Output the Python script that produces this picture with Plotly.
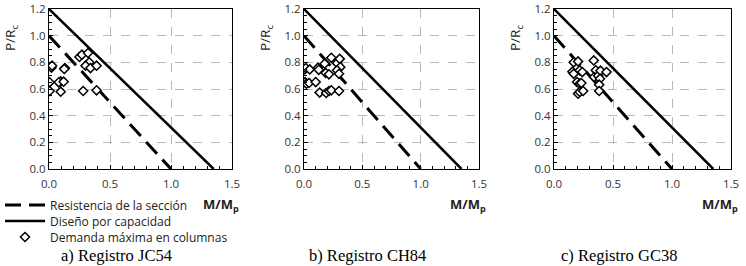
import plotly.graph_objects as go

# ---- data ----
x_limits = [0.0, 1.5]
y_limits = [0.0, 1.2]
x_tick_vals = [0.0, 0.5, 1.0, 1.5]
x_tick_text = ["0.0", "0.5", "1.0", "1.5"]
y_tick_vals = [0.0, 0.2, 0.4, 0.6, 0.8, 1.0, 1.2]
y_tick_text = ["0.0", "0.2", "0.4", "0.6", "0.8", "1.0", "1.2"]

# Resistencia de la sección (dashed)
res_m = [0.0, 1.0]
res_p = [1.0, 0.0]
# Diseño por capacidad (solid)
cap_m = [0.0, 1.35]
cap_p = [1.2, 0.0]

# Demanda máxima en columnas
jc54_m = [0.02, 0.025, 0.005, 0.005, 0.13, 0.125, 0.096, 0.08, 0.12, 0.096,
          0.25, 0.27, 0.32, 0.33, 0.30, 0.34, 0.39, 0.28, 0.39]
jc54_p = [0.76, 0.775, 0.65, 0.585, 0.757, 0.75, 0.657, 0.65, 0.655, 0.58,
          0.84, 0.857, 0.87, 0.80, 0.775, 0.757, 0.775, 0.585, 0.59]

ch84_m = [0.006, 0.015, 0.049, 0.009, 0.02, 0.043, 0.10, 0.12, 0.126, 0.177,
          0.186, 0.214, 0.234, 0.283, 0.306, 0.311, 0.283, 0.30, 0.134, 0.19,
          0.214, 0.234, 0.30]
ch84_p = [0.747, 0.757, 0.747, 0.652, 0.64, 0.645, 0.652, 0.76, 0.744, 0.79,
          0.72, 0.71, 0.834, 0.794, 0.826, 0.764, 0.74, 0.714, 0.573, 0.57,
          0.585, 0.59, 0.585]

gc38_m = [0.167, 0.204, 0.156, 0.167, 0.218, 0.24, 0.196, 0.218, 0.232, 0.204,
          0.218, 0.247, 0.337, 0.354, 0.34, 0.374, 0.394, 0.39, 0.445, 0.383,
          0.383]
gc38_p = [0.80, 0.807, 0.73, 0.714, 0.74, 0.727, 0.652, 0.64, 0.645, 0.565,
          0.578, 0.585, 0.814, 0.74, 0.69, 0.70, 0.737, 0.677, 0.727, 0.632,
          0.585]

captions = ["a) Registro JC54", "b) Registro CH84", "c) Registro GC38"]
legend_names = ["Resistencia de la sección", "Diseño por capacidad",
                "Demanda máxima en columnas"]

W, H = 746, 266
panels = [
    dict(m=jc54_m, p=jc54_p, x0=49, x1=232),
    dict(m=ch84_m, p=ch84_p, x0=304, x1=479),
    dict(m=gc38_m, p=gc38_p, x0=554, x1=731),
]
ytop, ybot = 9, 169
legend_keys = ["legend", "legend2", "legend3"]
legend_rows = [205, 221, 237]

fig = go.Figure()
FONT = "Open Sans, Liberation Sans, sans-serif"
TICKFONT = dict(family=FONT, size=11.5, color="#333")
ALIAS = {"0": "0.0", "1": "1.0"}

for i, pnl in enumerate(panels):
    n = "" if i == 0 else str(i + 1)
    xa, ya = "x" + n, "y" + n
    first = i == 0
    fig.add_trace(go.Scatter(x=res_m, y=res_p, mode="lines", xaxis=xa, yaxis=ya,
                             line=dict(color="black", width=3, dash="16px,8px"),
                             name=legend_names[0], showlegend=first, legend=legend_keys[0]))
    fig.add_trace(go.Scatter(x=cap_m, y=cap_p, mode="lines", xaxis=xa, yaxis=ya,
                             line=dict(color="black", width=2.5),
                             name=legend_names[1], showlegend=first, legend=legend_keys[1]))
    fig.add_trace(go.Scatter(x=pnl["m"], y=pnl["p"], mode="markers", xaxis=xa, yaxis=ya,
                             marker=dict(symbol="diamond", size=7, color="white",
                                         line=dict(color="black", width=1.5)),
                             name=legend_names[2], showlegend=first, legend=legend_keys[2]))
    axcommon = dict(showline=True, linecolor="black", linewidth=1.2, mirror=True,
                    showgrid=True, gridcolor="#b8b8b8", griddash="dash", gridwidth=1,
                    zeroline=False, ticks="inside", ticklen=4, tickcolor="black",
                    tickfont=TICKFONT, automargin=False, tickmode="array",
                    tickformat=".1f", labelalias=ALIAS)
    fig.layout["xaxis" + n] = dict(
        domain=[pnl["x0"] / W, pnl["x1"] / W], range=x_limits,
        tickvals=x_tick_vals, ticktext=x_tick_text, ticklabelstandoff=4,
        anchor=ya, minor=dict(dtick=0.1, tick0=0, ticks="inside", ticklen=3,
                              tickcolor="black", showgrid=False),
        **axcommon)
    fig.layout["yaxis" + n] = dict(
        domain=[1 - ybot / H, 1 - ytop / H], range=y_limits,
        tickvals=y_tick_vals, ticktext=y_tick_text,
        anchor=xa, minor=dict(dtick=0.05, tick0=0, ticks="inside", ticklen=3,
                              tickcolor="black", showgrid=False),
        **axcommon)
    # axis titles
    fig.add_annotation(text="P/R<sub>c</sub>", xref="paper", yref="paper",
                       x=(pnl["x0"] - 38) / W, y=1 - 38 / H, textangle=-90,
                       showarrow=False, xanchor="center", yanchor="middle",
                       font=dict(family=FONT, size=13.5, color="#222"))
    fig.add_annotation(text="<b>M/M<sub>p</sub></b>", xref="paper", yref="paper",
                       x=(pnl["x1"] + 9) / W, y=1 - 205 / H, showarrow=False,
                       xanchor="right", yanchor="middle",
                       font=dict(family=FONT, size=13, color="#222"))
    fig.add_annotation(text=captions[i], xref="paper", yref="paper",
                       x=((pnl["x0"] + pnl["x1"]) / 2 - 24) / W, y=1 - 255 / H,
                       showarrow=False, xanchor="center", yanchor="middle",
                       font=dict(family="Liberation Serif, serif", size=16.5, color="black"))

legend_common = dict(xanchor="left", yanchor="middle", bgcolor="rgba(0,0,0,0)",
                     itemwidth=40, borderwidth=0,
                     font=dict(family=FONT, size=12, color="#222"))
layout_legends = {}
for key, row in zip(legend_keys, legend_rows):
    layout_legends[key] = dict(x=0.0, y=1 - row / H, **legend_common)

fig.update_layout(
    width=W, height=H, margin=dict(l=0, r=0, t=0, b=0),
    paper_bgcolor="white", plot_bgcolor="white",
    showlegend=True,
    **layout_legends,
)

fig.write_html("out.html", config={"displayModeBar": False},
               post_script="document.body.style.margin='0';document.body.style.overflow='hidden';")
